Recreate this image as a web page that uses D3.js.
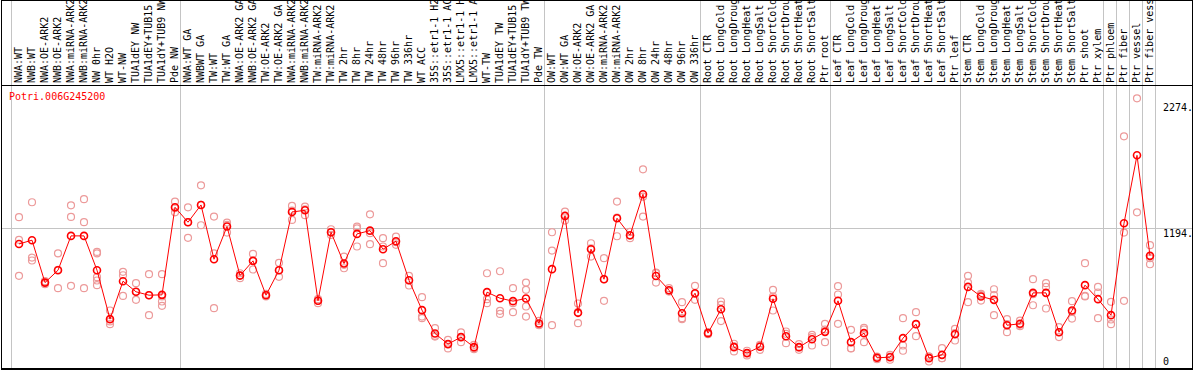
<!DOCTYPE html>
<html>
<head>
<meta charset="utf-8">
<script src="https://cdn.jsdelivr.net/npm/d3@7"></script>
<style>
    body { margin: 0; background: #fff; }
    text { font-family: "DejaVu Sans Mono", monospace; font-size: 10px; }
</style>
</head>
<body>
<script>
//wrap everything in a self-executing anonymous function to move to local scope
(function () {

    //gene shown in the chart
    var geneId = "Potri.006G245200";

    //sample names, left to right
    var labels = ["NWA:WT", "NWB:WT", "NWA:OE-ARK2", "NWB:OE-ARK2", "NWA:miRNA-ARK2", "NWB:miRNA-ARK2",
        "NW 0hr", "WT H2O", "WT-NW", "TUA1dEY NW", "TUA1dEY+TUB15 NW", "TUA1dY+TUB9 NW", "Pde NW",
        "NWA:WT GA", "NWBWT GA", "TW:WT", "TW:WT GA", "NWA:OE-ARK2 GA", "NWB:OE-ARK2 GA", "TW:OE-ARK2",
        "TW:OE-ARK2 GA", "NWA:miRNA-ARK2", "NWB:miRNA-ARK2", "TW:miRNA-ARK2", "TW:miRNA-ARK2 GA",
        "TW 2hr", "TW 8hr", "TW 24hr", "TW 48hr", "TW 96hr", "TW 336hr", "WT ACC",
        "35S::etr1-1 H2O", "35S::etr1-1 ACC", "LMX5::etr1-1 H2O", "LMX5::etr1-1 ACC", "WT-TW",
        "TUA1dEY TW", "TUA1dEY+TUB15 TW", "TUA1dY+TUB9 TW", "Pde TW",
        "OW:WT", "OW:WT GA", "OW:OE-ARK2", "OW:OE-ARK2 GA", "OW:miRNA-ARK2", "OW:miRNA-ARK2 GA",
        "OW 2hr", "OW 8hr", "OW 24hr", "OW 48hr", "OW 96hr", "OW 336hr",
        "Root CTR", "Root LongCold", "Root LongDrought", "Root LongHeat", "Root LongSalt",
        "Root ShortCold", "Root ShortDrought", "Root ShortHeat", "Root ShortSalt", "Ptr root",
        "Leaf CTR", "Leaf LongCold", "Leaf LongDrought", "Leaf LongHeat", "Leaf LongSalt",
        "Leaf ShortCold", "Leaf ShortDrought", "Leaf ShortHeat", "Leaf ShortSalt", "Ptr leaf",
        "Stem CTR", "Stem LongCold", "Stem LongDrought", "Stem LongHeat", "Stem LongSalt",
        "Stem ShortCold", "Stem ShortDrought", "Stem ShortHeat", "Stem ShortSalt", "Ptr shoot",
        "Ptr xylem", "Ptr phloem", "Ptr fiber", "Ptr vessel", "Ptr fiber vessel"];

    //index where each experiment group starts (last entry = end)
    var groupStarts = [0, 13, 41, 53, 63, 73, 84, 85, 86, 87, 88];

    //mean expression per sample
    var means = [1054, 1086, 723, 829, 1123, 1123, 829, 410, 735, 644, 615, 618, 1368,
        1240, 1388, 923, 1203, 783, 909, 615, 829, 1328, 1342, 567, 1154, 886, 1140, 1168,
        1009, 1077, 743, 487, 287, 196, 256, 170, 641, 589, 564, 587, 373,
        838, 1294, 464, 1009, 752, 1274, 1129, 1479, 780, 658, 461, 632,
        290, 495, 170, 119, 173, 584, 264, 170, 238, 301,
        567, 213, 290, 79, 84, 247, 367, 76, 104, 281,
        686, 604, 575, 358, 370, 635, 635, 298, 484, 701,
        581, 444, 1231, 1813, 952];

    //replicate values per sample
    var reps = [
        [1283, 1089, 781], [1411, 937, 912], [735, 723, 709], [974, 832, 675],
        [1385, 1285, 695], [1437, 1240, 675], [986, 974, 769, 741, 701], [484, 390, 367],
        [815, 786, 609], [718, 644, 575], [795, 615, 444], [795, 604, 561, 524],
        [1417, 1360, 1325], [1368, 1240, 1106], [1556, 1388, 1214], [1288, 974, 504],
        [1237, 1217, 1151], [803, 783, 761], [969, 909, 835], [626, 615, 604],
        [892, 829, 772], [1380, 1340, 1260], [1374, 1351, 1300], [581, 567, 547],
        [1180, 1151, 1131], [946, 875, 846], [1203, 1188, 1032], [1308, 1146, 1052],
        [1103, 1032, 889], [1117, 1069, 1046], [781, 741, 698], [598, 432, 418],
        [333, 267, 261], [233, 196, 159], [296, 256, 213], [190, 161, 153],
        [803, 581, 547], [820, 481, 455], [675, 547, 470], [723, 661, 518, 432],
        [395, 361, 358], [1154, 997, 358], [1331, 1294, 1254], [544, 470, 375],
        [1060, 1017, 946], [932, 752, 567], [1417, 1280, 1120], [1157, 1126, 1103],
        [1693, 1459, 1288], [809, 803, 723], [675, 652, 646], [555, 418, 410],
        [695, 626, 575], [298, 290, 281], [561, 532, 393], [199, 176, 133],
        [139, 119, 99], [190, 181, 147], [661, 604, 484], [304, 284, 204],
        [196, 167, 147], [276, 256, 184], [370, 321, 213], [692, 621, 370],
        [318, 161, 159], [335, 321, 213], [90, 82, 67], [104, 90, 62],
        [418, 184, 139], [470, 367, 264], [90, 90, 47], [161, 76, 76],
        [327, 290, 227], [781, 723, 555], [626, 615, 569], [666, 615, 444],
        [410, 367, 298], [398, 361, 350], [752, 624, 529], [718, 686, 501],
        [341, 298, 256], [564, 472, 415], [889, 609, 604], [686, 638, 418],
        [558, 407, 367], [1976, 1151, 567], [2301, 1325], [1043, 932, 880]];

    //y axis ticks and their printed labels
    var yTicks = [0, 1194, 2274];
    var yTickLabels = ["0", "1194.", "2274."];

    window.onload = setChart();

    function setChart(){

        //chart frame dimensions
        var width = 1194,
            height = 370,
            headerBottom = 85,
            plotBottom = 369;

        var svg = d3.select("body")
            .append("svg")
            .attr("width", width)
            .attr("height", height);

        //one 13px band per sample
        var x = d3.scaleBand()
            .domain(d3.range(labels.length))
            .range([11, 11 + 13 * labels.length]);

        var y = d3.scaleLinear()
            .domain([0, 2274])
            .range([367, 101.5]);

        //point position inside a band
        function cx(i){ return x(i) + 8; }

        //vertical group separators
        svg.selectAll(".groupLine")
            .data(groupStarts)
            .enter()
            .append("line")
            .attr("class", "groupLine")
            .attr("x1", function (d) { return (d < labels.length ? x(d) : x(labels.length - 1) + 13) + 0.5; })
            .attr("x2", function (d) { return (d < labels.length ? x(d) : x(labels.length - 1) + 13) + 0.5; })
            .attr("y1", 0)
            .attr("y2", plotBottom)
            .attr("stroke", "#c4c4c4");

        //horizontal grid for the inner ticks only
        svg.selectAll(".gridLine")
            .data(yTicks.slice(1, -1))
            .enter()
            .append("line")
            .attr("class", "gridLine")
            .attr("x1", 1)
            .attr("x2", width - 2)
            .attr("y1", function (d) { return Math.round(y(d)) + 0.5; })
            .attr("y2", function (d) { return Math.round(y(d)) + 0.5; })
            .attr("stroke", "#c4c4c4");

        //sample labels, written bottom to top
        svg.selectAll(".sampleLabel")
            .data(labels)
            .enter()
            .append("text")
            .attr("class", "sampleLabel")
            .attr("transform", function (d, i) {
                return "translate(" + (cx(i) + 3) + "," + (headerBottom - 2) + ") rotate(-90)";
            })
            .attr("fill", "#000")
            .text(function (d) { return d; });

        //y tick labels at the right
        svg.selectAll(".tickLabel")
            .data(yTicks)
            .enter()
            .append("text")
            .attr("class", "tickLabel")
            .attr("x", 1163)
            .attr("y", function (d) { return d === 0 ? y(d) - 2 : y(d) + 9; })
            .attr("fill", "#000")
            .text(function (d, i) { return yTickLabels[i]; });

        //replicate circles
        var repPoints = [];
        reps.forEach(function (r, i) {
            r.forEach(function (v) { repPoints.push({ i: i, v: v }); });
        });

        svg.selectAll(".rep")
            .data(repPoints)
            .enter()
            .append("circle")
            .attr("class", "rep")
            .attr("cx", function (d) { return cx(d.i); })
            .attr("cy", function (d) { return y(d.v); })
            .attr("r", 3.5)
            .attr("fill", "none")
            .attr("stroke", "#ec9a9a")
            .attr("stroke-width", 1.2);

        //mean line
        var line = d3.line()
            .x(function (d, i) { return cx(i); })
            .y(function (d) { return y(d); });

        svg.append("path")
            .datum(means)
            .attr("d", line)
            .attr("fill", "none")
            .attr("stroke", "#ff0000")
            .attr("stroke-width", 1);

        svg.selectAll(".mean")
            .data(means)
            .enter()
            .append("circle")
            .attr("class", "mean")
            .attr("cx", function (d, i) { return cx(i); })
            .attr("cy", function (d) { return y(d); })
            .attr("r", 3.5)
            .attr("fill", "none")
            .attr("stroke", "#ff0000")
            .attr("stroke-width", 1.6);

        //gene name
        svg.append("text")
            .attr("x", 9)
            .attr("y", 100)
            .attr("fill", "#ff0000")
            .text(geneId);

        //frame and header separator
        svg.append("rect")
            .attr("x", 1.5)
            .attr("y", 0.5)
            .attr("width", width - 3)
            .attr("height", plotBottom - 0.5)
            .attr("fill", "none")
            .attr("stroke", "#000");

        svg.append("line")
            .attr("x1", 1)
            .attr("x2", width - 1)
            .attr("y1", plotBottom)
            .attr("y2", plotBottom)
            .attr("stroke", "#000")
            .attr("stroke-width", 2);

        svg.append("line")
            .attr("x1", 1)
            .attr("x2", width - 1)
            .attr("y1", headerBottom + 0.5)
            .attr("y2", headerBottom + 0.5)
            .attr("stroke", "#000");
    }

})();
</script>
</body>
</html>
